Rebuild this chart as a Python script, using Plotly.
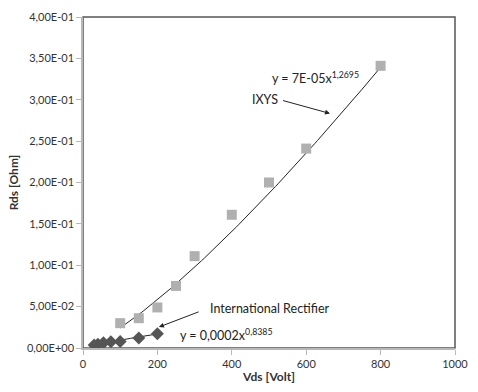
import plotly.graph_objects as go
import numpy as np

# IXYS data
ixys_vds = [100, 150, 200, 250, 300, 400, 500, 600, 800]
ixys_rds = [0.030, 0.036, 0.049, 0.075, 0.111, 0.161, 0.200, 0.241, 0.341]
# International Rectifier data
ir_vds = [30, 40, 55, 75, 100, 150, 200]
ir_rds = [0.0035, 0.0045, 0.0062, 0.0075, 0.0080, 0.0120, 0.0172]

# power trendline coefficients (from chart labels)
ixys_a, ixys_b = 7e-05, 1.2695
ir_a, ir_b = 0.0002, 0.8385

y_ticks = [0, 0.05, 0.10, 0.15, 0.20, 0.25, 0.30, 0.35, 0.40]
y_labels = ["0,00E+00", "5,00E-02", "1,00E-01", "1,50E-01", "2,00E-01",
            "2,50E-01", "3,00E-01", "3,50E-01", "4,00E-01"]
x_ticks = [0, 200, 400, 600, 800, 1000]

FONT = "Lato, 'Liberation Sans', sans-serif"
TXT = dict(family=FONT, size=12.5, color="#222222")

fig = go.Figure()

xt = np.linspace(min(ixys_vds), max(ixys_vds), 100)
fig.add_trace(go.Scatter(x=xt, y=ixys_a * xt ** ixys_b, mode="lines",
                         line=dict(color="#222222", width=1), showlegend=False))
xt2 = np.linspace(min(ir_vds), max(ir_vds), 50)
fig.add_trace(go.Scatter(x=xt2, y=ir_a * xt2 ** ir_b, mode="lines",
                         line=dict(color="#222222", width=1), showlegend=False))

fig.add_trace(go.Scatter(x=ixys_vds, y=ixys_rds, mode="markers",
                         marker=dict(symbol="square", size=10, color="#b0b0b0"),
                         showlegend=False))
fig.add_trace(go.Scatter(x=ir_vds, y=ir_rds, mode="markers",
                         marker=dict(symbol="diamond", size=10, color="#555555"),
                         showlegend=False))

# plot-area frame
fig.add_shape(type="rect", xref="paper", yref="paper", x0=0, y0=0, x1=1, y1=1,
              line=dict(color="#555555", width=1.5), layer="below")

# trendline equations
fig.add_annotation(x=503, y=0.327, text="y = 7E-05x<sup>1,2695</sup>", xanchor="left",
                   showarrow=False, font=TXT)
fig.add_annotation(x=255, y=0.0165, text="y = 0,0002x<sup>0,8385</sup>", xanchor="left",
                   showarrow=False, font=TXT)

# labels with arrows
fig.add_annotation(x=664, y=0.2834, ax=530, ay=0.300, axref="x", ayref="y",
                   text="IXYS", xanchor="right", yanchor="middle", font=TXT,
                   showarrow=True, arrowhead=2, arrowsize=1, arrowwidth=1,
                   arrowcolor="#222222", startstandoff=3)
fig.add_annotation(x=204, y=0.0253, ax=336, ay=0.048, axref="x", ayref="y",
                   text="International Rectifier", xanchor="left", yanchor="middle",
                   font=TXT, showarrow=True, arrowhead=2, arrowsize=1, arrowwidth=1,
                   arrowcolor="#222222", startstandoff=10)

fig.update_layout(
    width=478, height=392,
    margin=dict(l=83, r=15, t=10, b=40),
    paper_bgcolor="white", plot_bgcolor="white",
    font=dict(family=FONT, size=11, color="#333333"),
    xaxis=dict(range=[0, 1000], tickvals=x_ticks, showgrid=False, zeroline=False,
               showline=True, linecolor="#b8b8b8", linewidth=1.5,
               ticks="outside", ticklen=5, tickcolor="#b8b8b8",
               title=dict(text="<b>Vds [Volt]</b>", font=dict(size=12), standoff=4)),
    yaxis=dict(range=[0, 0.4], tickvals=y_ticks, ticktext=y_labels, showgrid=False,
               zeroline=False, showline=True, linecolor="#b8b8b8", linewidth=1.5,
               ticks="outside", ticklen=5, tickcolor="#b8b8b8",
               title=dict(text="<b>Rds [Ohm]</b>", font=dict(size=12), standoff=6)),
)

fig.write_html("out.html")
